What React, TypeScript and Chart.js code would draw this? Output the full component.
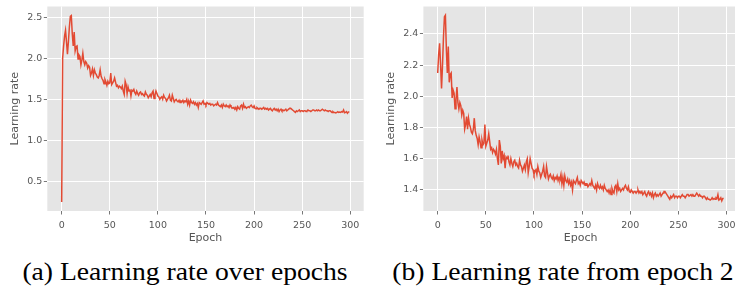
import React, { useEffect, useRef } from "react";
import { Chart, registerables } from "chart.js";

Chart.register(...registerables);

// Learning rate at epochs 0 and 1 (only in the full plot)
const lrFirstEpochs = [0.25, 2.0];

// Learning rate from epoch 2 onwards (298 values)
const lrFromEpoch2 = [
  2.15, 2.27, 2.34, 2.2, 2.05, 2.2, 2.38, 2.51, 2.52, 2.3,
  2.15, 2.32, 2.09, 2.14, 2.15, 1.99, 2.04, 2.02, 1.92, 1.98,
  2.06, 1.96, 1.92, 1.96, 1.94, 1.88, 1.91, 1.89, 1.79, 1.82,
  1.87, 1.79, 1.86, 1.82, 1.8, 1.77, 1.76, 1.79, 1.86, 1.78,
  1.75, 1.73, 1.69, 1.74, 1.71, 1.67, 1.72, 1.69, 1.7, 1.82,
  1.68, 1.7, 1.72, 1.76, 1.71, 1.66, 1.67, 1.64, 1.66, 1.65,
  1.63, 1.66, 1.6, 1.56, 1.72, 1.68, 1.57, 1.65, 1.6, 1.62,
  1.54, 1.61, 1.6, 1.62, 1.58, 1.56, 1.6, 1.57, 1.55, 1.58,
  1.59, 1.56, 1.57, 1.55, 1.54, 1.59, 1.56, 1.55, 1.52, 1.54,
  1.56, 1.53, 1.58, 1.6, 1.51, 1.55, 1.6, 1.57, 1.54, 1.53,
  1.5, 1.52, 1.53, 1.5, 1.55, 1.52, 1.51, 1.48, 1.5, 1.52,
  1.55, 1.49, 1.48, 1.55, 1.51, 1.47, 1.49, 1.5, 1.48, 1.47,
  1.49, 1.46, 1.48, 1.47, 1.49, 1.46, 1.48, 1.47, 1.5, 1.44,
  1.48, 1.43, 1.49, 1.46, 1.45, 1.47, 1.44, 1.46, 1.43, 1.45,
  1.4, 1.46, 1.45, 1.44, 1.46, 1.48, 1.44, 1.45, 1.43, 1.46,
  1.45, 1.44, 1.45, 1.43, 1.44, 1.44, 1.42, 1.43, 1.44, 1.43,
  1.46, 1.43, 1.42, 1.41, 1.43, 1.4, 1.44, 1.42, 1.41, 1.43,
  1.41, 1.42, 1.4, 1.43, 1.41, 1.4, 1.39, 1.4, 1.38, 1.4,
  1.37, 1.41, 1.39, 1.38, 1.42, 1.43, 1.39, 1.44, 1.4, 1.41,
  1.39, 1.4, 1.41, 1.4, 1.42, 1.43, 1.41, 1.4, 1.42, 1.39,
  1.385, 1.4, 1.39, 1.38, 1.39, 1.39, 1.38, 1.39, 1.4, 1.38,
  1.39, 1.38, 1.39, 1.37, 1.38, 1.39, 1.37, 1.36, 1.38, 1.39,
  1.37, 1.38, 1.36, 1.38, 1.35, 1.37, 1.38, 1.36, 1.37, 1.36,
  1.37, 1.38, 1.36, 1.37, 1.38, 1.39, 1.39, 1.38, 1.37, 1.36,
  1.35, 1.34, 1.36, 1.35, 1.36, 1.37, 1.35, 1.36, 1.36, 1.35,
  1.36, 1.36, 1.35, 1.36, 1.37, 1.36, 1.36, 1.35, 1.36, 1.37,
  1.37, 1.36, 1.36, 1.37, 1.36, 1.37, 1.36, 1.36, 1.37, 1.38,
  1.37, 1.36, 1.37, 1.36, 1.36, 1.35, 1.36, 1.36, 1.35, 1.34,
  1.35, 1.34, 1.34, 1.335, 1.34, 1.35, 1.34, 1.345, 1.34, 1.35,
  1.345, 1.37, 1.335, 1.34, 1.35, 1.33, 1.345, 1.345,
];

const lrAllEpochs = [...lrFirstEpochs, ...lrFromEpoch2];

const epochTicks = [0, 50, 100, 150, 200, 250, 300];
const leftYTicks = [0.5, 1.0, 1.5, 2.0, 2.5];
const rightYTicks = [1.4, 1.6, 1.8, 2.0, 2.2, 2.4];

const captionA = "(a) Learning rate over epochs";
const captionB = "(b) Learning rate from epoch 2";

const LINE_COLOR = "#E24A33";
const BG = "#E5E5E5";
const TICK_COLOR = "#555555";
const FONT = "'DejaVu Sans', sans-serif";

const bgPlugin = {
  id: "ggbg",
  beforeDraw(chart: any) {
    const { ctx, chartArea } = chart;
    if (!chartArea) return;
    ctx.save();
    ctx.fillStyle = BG;
    ctx.fillRect(chartArea.left, chartArea.top, chartArea.right - chartArea.left, chartArea.bottom - chartArea.top);
    ctx.restore();
  },
};

interface PanelOpts {
  values: number[];
  yMin: number;
  yMax: number;
  yTicks: number[];
  xMin: number;
  xMax: number;
  width: number;
  height: number;
  padTop: number;
  padRight: number;
  yAxisWidth: number;
  xAxisHeight: number;
  yTitlePad: number;
}

function makeConfig(o: PanelOpts): any {
  return {
    type: "line",
    data: {
      datasets: [
        {
          data: o.values.map((v, i) => ({ x: i, y: v })),
          borderColor: LINE_COLOR,
          borderWidth: 1.5,
          pointRadius: 0,
          tension: 0,
          fill: false,
        },
      ],
    },
    options: {
      animation: false,
      responsive: false,
      maintainAspectRatio: false,
      events: [],
      layout: { padding: { top: o.padTop, right: o.padRight, left: 0, bottom: 0 } },
      plugins: { legend: { display: false }, tooltip: { enabled: false }, title: { display: false } },
      scales: {
        x: {
          type: "linear",
          min: o.xMin,
          max: o.xMax,
          afterBuildTicks(scale: any) {
            scale.ticks = epochTicks.map((v) => ({ value: v }));
          },
          afterFit(scale: any) {
            scale.height = o.xAxisHeight;
            scale.paddingLeft = 0;
            scale.paddingRight = 0;
          },
          grid: {
            color: "#FFFFFF",
            lineWidth: 1,
            drawTicks: true,
            tickLength: 3.5,
            tickColor: TICK_COLOR,
            tickWidth: 0.8,
          },
          border: { display: false },
          ticks: {
            color: TICK_COLOR,
            font: { family: FONT, size: 9.5 },
            padding: 5.5,
            maxRotation: 0,
            autoSkip: false,
            callback: (v: any) => String(v),
          },
          title: {
            display: true,
            text: "Epoch",
            color: TICK_COLOR,
            font: { family: FONT, size: 11 },
            padding: { top: 0, bottom: 5.3 },
          },
        },
        y: {
          type: "linear",
          min: o.yMin,
          max: o.yMax,
          afterBuildTicks(scale: any) {
            scale.ticks = o.yTicks.map((v) => ({ value: v }));
          },
          afterFit(scale: any) {
            scale.width = o.yAxisWidth;
            scale.paddingTop = 0;
            scale.paddingBottom = 0;
          },
          grid: {
            color: "#FFFFFF",
            lineWidth: 1,
            drawTicks: true,
            tickLength: 3.5,
            tickColor: TICK_COLOR,
            tickWidth: 0.8,
          },
          border: { display: false },
          ticks: {
            color: TICK_COLOR,
            font: { family: FONT, size: 9.5 },
            padding: 1.5,
            autoSkip: false,
            callback: (v: any) => Number(v).toFixed(1),
          },
          title: {
            display: true,
            text: "Learning rate",
            color: TICK_COLOR,
            font: { family: FONT, size: 11 },
            padding: { top: o.yTitlePad, bottom: 0 },
          },
        },
      },
    },
    plugins: [bgPlugin],
  };
}

function Panel({ opts, left }: { opts: PanelOpts; left: number }) {
  const ref = useRef<HTMLCanvasElement | null>(null);
  useEffect(() => {
    if (!ref.current) return;
    const chart = new Chart(ref.current, makeConfig(opts));
    return () => chart.destroy();
  }, []);
  return (
    <canvas
      ref={ref}
      width={opts.width}
      height={opts.height}
      style={{ position: "absolute", left, top: 0, width: opts.width, height: opts.height }}
    />
  );
}

const leftOpts: PanelOpts = {
  values: lrAllEpochs,
  yMin: 0.14,
  yMax: 2.63,
  yTicks: leftYTicks,
  xMin: -14.95,
  xMax: 313.95,
  width: 367,
  height: 250,
  padTop: 6.5,
  padRight: 3.3,
  yAxisWidth: 47.3,
  xAxisHeight: 39,
  yTitlePad: 8.4,
};

const rightOpts: PanelOpts = {
  values: lrFromEpoch2,
  yMin: 1.265,
  yMax: 2.576,
  yTicks: rightYTicks,
  xMin: -14.85,
  xMax: 311.85,
  width: 368,
  height: 250,
  padTop: 6.5,
  padRight: 0,
  yAxisWidth: 53.4,
  xAxisHeight: 39,
  yTitlePad: 14.6,
};

const captionStyle: React.CSSProperties = {
  position: "absolute",
  top: 259,
  fontFamily: "'Liberation Serif', serif",
  fontSize: 25,
  lineHeight: "25px",
  color: "#000",
  whiteSpace: "nowrap",
};

export default function App() {
  return (
    <div
      style={{
        position: "absolute",
        left: 0,
        top: 0,
        width: 735,
        height: 292,
        overflow: "hidden",
        background: "#fff",
      }}
    >
      <Panel opts={leftOpts} left={0} />
      <Panel opts={rightOpts} left={370} />
      <div style={{ ...captionStyle, left: 184.5, transform: "translateX(-50%) scaleX(1.105)" }}>{captionA}</div>
      <div style={{ ...captionStyle, left: 563, transform: "translateX(-50%) scaleX(1.105)" }}>{captionB}</div>
    </div>
  );
}
